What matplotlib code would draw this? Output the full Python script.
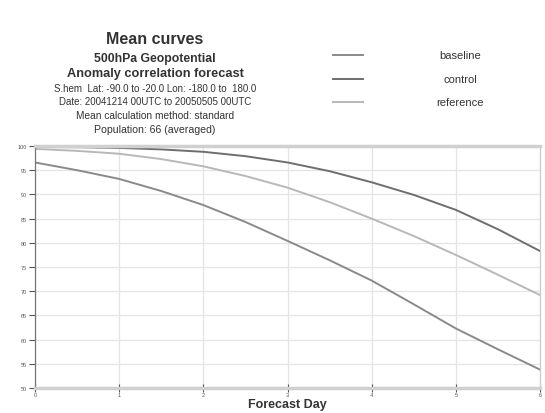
import matplotlib
matplotlib.use("Agg")
import matplotlib.pyplot as plt
from matplotlib.lines import Line2D

plt.rcParams['font.family'] = ['Liberation Sans', 'DejaVu Sans']

days = [0, 0.5, 1, 1.5, 2, 2.5, 3, 3.5, 4, 4.5, 5, 5.5, 6]
tick_days = [0, 1, 2, 3, 4, 5, 6]
day_labels = ["0", "1", "2", "3", "4", "5", "6"]
control = [99.8, 99.75, 99.6, 99.3, 98.8, 97.9, 96.6, 94.8, 92.5, 89.9, 86.8, 82.8, 78.3]
reference = [99.4, 99.0, 98.4, 97.3, 95.8, 93.8, 91.4, 88.4, 85.0, 81.4, 77.5, 73.4, 69.2]
baseline = [96.6, 95.0, 93.2, 90.7, 87.8, 84.3, 80.4, 76.4, 72.2, 67.3, 62.3, 58.0, 53.8]
y_ticks = [50, 55, 60, 65, 70, 75, 80, 85, 90, 95, 100]

title_lines = [
    ("Mean curves", 11.5, "bold"),
    ("500hPa Geopotential", 8.8, "bold"),
    ("Anomaly correlation forecast", 9.2, "bold"),
    ("S.hem  Lat: -90.0 to -20.0 Lon: -180.0 to  180.0", 7.0, "normal"),
    ("Date: 20041214 00UTC to 20050505 00UTC", 7.0, "normal"),
    ("Mean calculation method: standard", 7.3, "normal"),
    ("Population: 66 (averaged)", 7.6, "normal"),
]
title_y = [39, 59, 74, 89, 102, 116, 130]

series = [("baseline", baseline, "#8a8a8a"),
          ("control", control, "#6e6e6e"),
          ("reference", reference, "#b8b8b8")]

W, H = 545, 414
fig = plt.figure(figsize=(W / 100, H / 100), dpi=100)
ax = fig.add_axes([35 / W, 1 - 389 / H, (540 - 35) / W, (389 - 147) / H])

for name, vals, col in series:
    ax.plot(days, vals, color=col, lw=1.4, solid_capstyle="round", solid_joinstyle="round")

ax.set_xlim(0, 6)
ax.set_ylim(50, 100)
ax.set_xticks(tick_days)
ax.set_xticklabels(day_labels)
ax.set_yticks(y_ticks)
ax.set_yticklabels([str(v) for v in y_ticks])
ax.grid(True, color="#e4e4e4", lw=0.9)
ax.set_axisbelow(True)
for s in ["top", "bottom"]:
    ax.spines[s].set_color("#d0d0d0")
    ax.spines[s].set_linewidth(2.5)
ax.spines["left"].set_color("#777777")
ax.spines["left"].set_linewidth(0.9)
ax.spines["right"].set_color("#cccccc")
ax.spines["right"].set_linewidth(0.9)
ax.tick_params(axis="both", labelsize=4, colors="#555555", length=4, width=0.8, pad=2)
ax.tick_params(axis="x", direction="inout", length=6, pad=0)
ax.set_xlabel("Forecast Day", fontsize=9, fontweight="bold", color="#333333", va="center")
ax.xaxis.set_label_coords(0.5, -(405.5 - 389) / 242)

for (txt, fs, fw), yy in zip(title_lines, title_y):
    fig.text(155 / W, 1 - yy / H, txt, ha="center", va="center",
             fontsize=fs, fontweight=fw, color="#333333")

leg_y = [56, 80, 103]
for (name, vals, col), yy in zip(series, leg_y):
    fig.add_artist(Line2D([333 / W, 363 / W], [1 - yy / H, 1 - yy / H],
                          color=col, lw=1.4, transform=fig.transFigure))
    fig.text(460 / W, 1 - yy / H, name, ha="center", va="center",
             fontsize=8, color="#333333")

fig.savefig("out.png", dpi=100, facecolor="white")
